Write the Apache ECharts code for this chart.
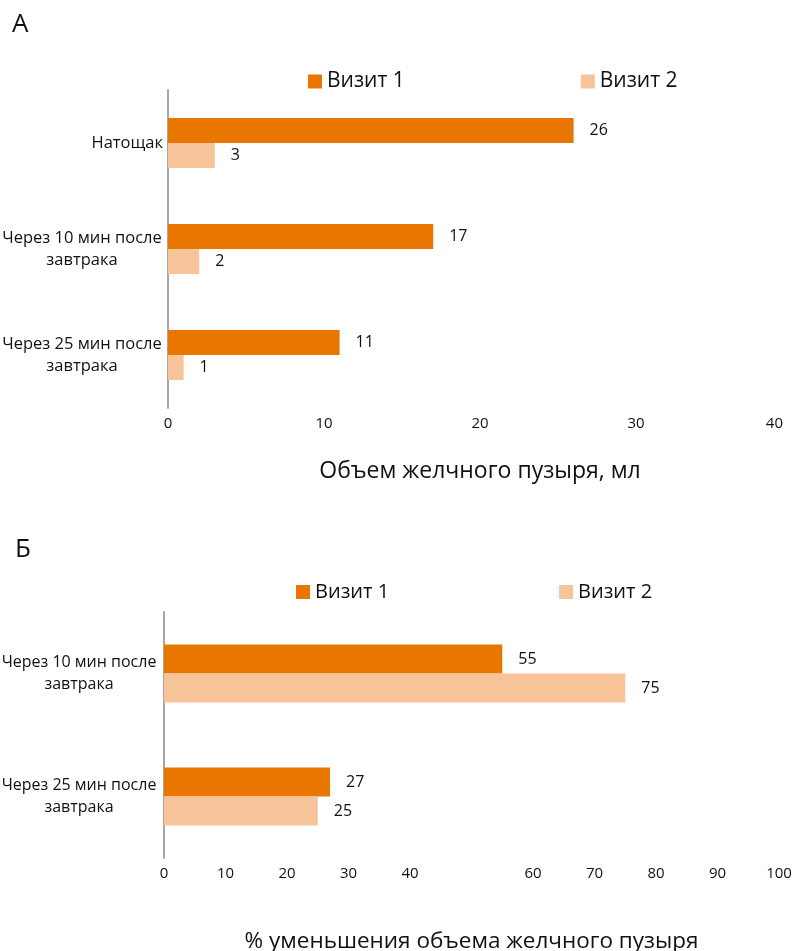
<!DOCTYPE html>
<html>
<head>
<meta charset="utf-8">
<script src="https://cdn.jsdelivr.net/npm/echarts@6/dist/echarts.min.js"></script>
<style>
  html, body { margin: 0; padding: 0; background: #fff; }
  #main { width: 797px; height: 951px; }
</style>
</head>
<body>
<div id="main"></div>
<script>
// панель А: объем желчного пузыря, мл
var catsA = ['Натощак', 'Через 10 мин после\nзавтрака', 'Через 25 мин после\nзавтрака'];
var visit1A = [26, 17, 11];
var visit2A = [3, 2, 1];
var ticksA = [0, 10, 20, 30, 40];

// панель Б: % уменьшения объема
var catsB = ['Через 10 мин после\nзавтрака', 'Через 25 мин после\nзавтрака'];
var visit1B = [55, 27];
var visit2B = [75, 25];
var ticksB = [0, 10, 20, 30, 40, 60, 70, 80, 90, 100];

var seriesNames = ['Визит 1', 'Визит 2'];
var colors = ['#E87600', '#F7C49A'];
var font = 'Open Sans';

var myChart = echarts.init(document.getElementById('main'));

// двухстрочные подписи: вторая строка по центру первой
function catLabel(size, w, margin) {
    return {
        fontFamily: font,
        fontSize: size,
        color: '#111',
        margin: margin,
        lineHeight: 22,
        formatter: function (v) {
            if (v.indexOf('\n') < 0) return v;
            return v.split('\n').map(function (s) { return '{a|' + s + '}'; }).join('\n');
        },
        rich: {
            a: { width: w, align: 'center', fontFamily: font, fontSize: size, color: '#111', lineHeight: 22 }
        }
    };
}

function barLabel() {
    return {
        show: true,
        position: 'right',
        distance: 16,
        fontFamily: font,
        fontSize: 16,
        color: '#111'
    };
}

option = {
    backgroundColor: '#fff',
    color: colors,
    title: [
        { text: 'А', left: 7, top: 7, textStyle: { fontFamily: font, fontSize: 26, fontWeight: 'normal', color: '#111' } },
        { text: 'Б', left: 10, top: 532, textStyle: { fontFamily: font, fontSize: 26, fontWeight: 'normal', color: '#111' } }
    ],
    legend: [
        {
            data: seriesNames,
            left: 303, top: 66,
            itemWidth: 14, itemHeight: 14, itemGap: 176,
            icon: 'rect',
            textStyle: { fontFamily: font, fontSize: 21, color: '#111' }
        },
        {
            data: seriesNames,
            left: 291, top: 577,
            itemWidth: 14, itemHeight: 14, itemGap: 170,
            icon: 'rect',
            textStyle: { fontFamily: font, fontSize: 20, color: '#111' }
        }
    ],
    grid: [
        { left: 168, top: 90, width: 624, height: 318, outerBoundsMode: 'none' },
        { left: 164, top: 612, width: 615, height: 246, outerBoundsMode: 'none' }
    ],
    xAxis: [
        {
            gridIndex: 0, type: 'value', min: 0, max: 40, interval: 10,
            name: 'Объем желчного пузыря, мл', nameLocation: 'middle', nameGap: 52,
            nameTextStyle: { fontFamily: font, fontSize: 23, color: '#111' },
            axisLine: { show: false }, axisTick: { show: false }, splitLine: { show: false },
            axisLabel: {
                fontFamily: font, fontSize: 15, color: '#111', margin: 8,
                alignMaxLabel: 'right',
                formatter: function (v) {
                    if (ticksA.indexOf(v) < 0) return '';
                    return v === 40 ? '{m|' + v + '}' : String(v);
                },
                rich: { m: { fontFamily: font, fontSize: 15, color: '#111', padding: [0, 9, 0, 0] } }
            }
        },
        {
            gridIndex: 1, type: 'value', min: 0, max: 100, interval: 10,
            name: '% уменьшения объема желчного пузыря', nameLocation: 'middle', nameGap: 72,
            nameTextStyle: { fontFamily: font, fontSize: 22.5, color: '#111' },
            axisLine: { show: false }, axisTick: { show: false }, splitLine: { show: false },
            axisLabel: {
                fontFamily: font, fontSize: 15, color: '#111', margin: 8,
                formatter: function (v) { return ticksB.indexOf(v) >= 0 ? String(v) : ''; }
            }
        }
    ],
    yAxis: [
        {
            gridIndex: 0, type: 'category', data: catsA, inverse: true,
            axisLine: { show: true, lineStyle: { color: '#a6a6a6', width: 2 } },
            axisTick: { show: false },
            axisLabel: catLabel(16.5, 162, 5)
        },
        {
            gridIndex: 1, type: 'category', data: catsB, inverse: true,
            axisLine: { show: true, lineStyle: { color: '#a6a6a6', width: 2 } },
            axisTick: { show: false },
            axisLabel: catLabel(16, 156, 7)
        }
    ],
    series: [
        { name: 'Визит 1', type: 'bar', xAxisIndex: 0, yAxisIndex: 0, data: visit1A,
          barWidth: 25, barGap: '0%', itemStyle: { color: colors[0] }, label: barLabel() },
        { name: 'Визит 2', type: 'bar', xAxisIndex: 0, yAxisIndex: 0, data: visit2A,
          barWidth: 25, barGap: '0%', itemStyle: { color: colors[1] }, label: barLabel() },
        { name: 'Визит 1', type: 'bar', xAxisIndex: 1, yAxisIndex: 1, data: visit1B,
          barWidth: 29, barGap: '0%', itemStyle: { color: colors[0] }, label: barLabel() },
        { name: 'Визит 2', type: 'bar', xAxisIndex: 1, yAxisIndex: 1, data: visit2B,
          barWidth: 29, barGap: '0%', itemStyle: { color: colors[1] }, label: barLabel() }
    ]
};

myChart.setOption(option);
</script>
</body>
</html>
